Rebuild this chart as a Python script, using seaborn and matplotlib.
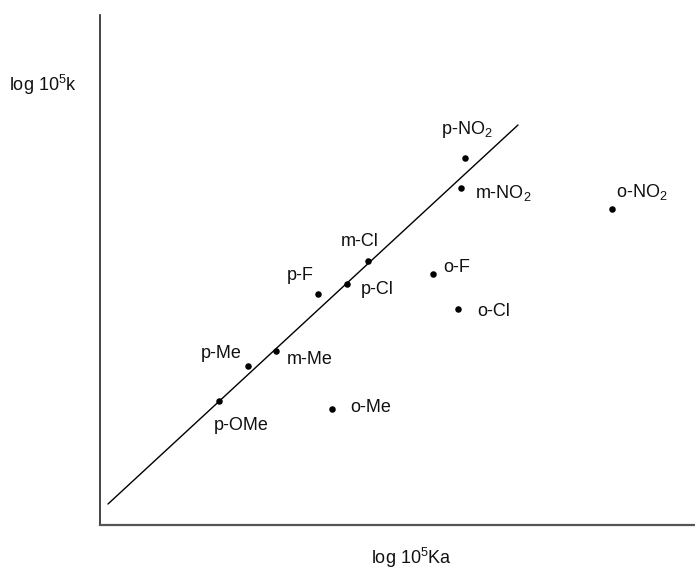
import matplotlib
matplotlib.use("Agg")
import matplotlib.pyplot as plt
import seaborn as sns
import pandas as pd

# Data (arbitrary units)
substituents = ["p-NO$_2$", "m-NO$_2$", "o-NO$_2$", "m-Cl", "p-Cl", "p-F",
                "o-F", "o-Cl", "p-Me", "m-Me", "p-OMe", "o-Me"]
log_ka = [365, 361, 512, 268, 247, 218, 333, 358, 148, 176, 119, 232]
log_k = [367, 337, 316, 264, 241, 231, 251, 216, 159, 174, 124, 116]
fit_x = [8, 418]
fit_y = [21, 400]

# label offsets (pixels) relative to each point
label_dx = [2, 42, 30, -8, 30, -18, 24, 36, -27, 34, 22, 39]
label_dy = [28, -5, 17, 19, -5, 18, 7, -3, 13, -9, -24, 2]

sns.set_theme(style="white")
plt.rcParams["font.family"] = ["Liberation Sans", "DejaVu Sans"]
plt.rcParams["mathtext.default"] = "regular"

FS = 13

fig = plt.figure(figsize=(6.95, 5.69), dpi=100)
ax = fig.add_axes([100 / 695, 44 / 569, 595 / 695, 510 / 569])

df = pd.DataFrame({"x": log_ka, "y": log_k, "name": substituents})
sns.lineplot(x=fit_x, y=fit_y, ax=ax, color="black", linewidth=1.0)
sns.scatterplot(data=df, x="x", y="y", ax=ax, color="black", s=22,
                edgecolor="black", linewidth=0, zorder=3)

for nm, x, y, dx, dy in zip(substituents, log_ka, log_k, label_dx, label_dy):
    ax.annotate(nm, (x, y), xytext=(dx, dy), textcoords="offset pixels",
                ha="center", va="center", fontsize=FS, color="#111111")

ax.set_xlim(0, 595)
ax.set_ylim(0, 510)
ax.set_xticks([])
ax.set_yticks([])
sns.despine(ax=ax)
ax.spines["left"].set_color("#222222")
ax.spines["left"].set_linewidth(1.2)
ax.spines["bottom"].set_color("#555555")
ax.spines["bottom"].set_linewidth(1.6)

ax.set_xlabel("log 10$^{5}$Ka", fontsize=FS, color="#111111")
ax.xaxis.set_label_coords(0.524, -0.0765)
ax.xaxis.label.set_va("baseline")
ax.set_ylabel("log 10$^{5}$k", fontsize=FS, rotation=0, color="#111111",
              ha="center", va="center")
ax.yaxis.set_label_coords(-0.096, 0.863)

fig.savefig("out.png", dpi=100, facecolor="white")
